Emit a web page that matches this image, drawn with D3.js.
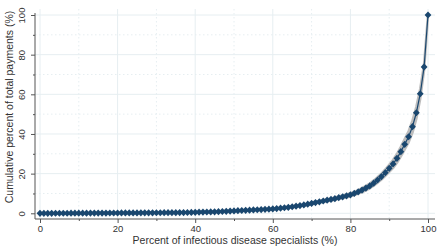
<!DOCTYPE html>
<html>
<head>
<meta charset="utf-8">
<script src="https://cdn.jsdelivr.net/npm/d3@7"></script>
<style>
  body { margin: 0; background: #fff; }
  text { font-family: "Liberation Sans", Arial, sans-serif; fill: #333; }
</style>
</head>
<body>
<div id="chart"></div>
<script>
"use strict"

// canvas size
let svgWidth = 440;
let svgHeight = 246;

// percent of specialists (x) and cumulative percent of payments (y)
let specialistPct = d3.range(0, 101);
let cumPayments = [
    0.00, 0.00, 0.01, 0.01, 0.02, 0.02, 0.03, 0.03, 0.04, 0.05,
    0.06, 0.07, 0.08, 0.09, 0.10, 0.11, 0.12, 0.13, 0.14, 0.15,
    0.16, 0.17, 0.18, 0.19, 0.20, 0.21, 0.22, 0.23, 0.24, 0.25,
    0.27, 0.28, 0.29, 0.30, 0.32, 0.34, 0.36, 0.38, 0.41, 0.45,
    0.50, 0.55, 0.60, 0.65, 0.70, 0.75, 0.80, 0.90, 1.00, 1.10,
    1.20, 1.30, 1.40, 1.50, 1.60, 1.70, 1.80, 1.90, 2.00, 2.10,
    2.20, 2.40, 2.60, 2.80, 3.00, 3.30, 3.60, 3.90, 4.20, 4.60,
    5.00, 5.40, 5.80, 6.20, 6.60, 7.00, 7.40, 7.90, 8.30, 8.80,
    9.30, 10.0, 10.8, 11.7, 12.7, 13.8, 15.2, 16.8, 18.5, 20.5,
    22.7, 24.9, 27.7, 31.1, 34.8, 38.6, 43.7, 50.7, 60.3, 73.8,
    100.0
];
// half width of the grey band around the curve
let bandHalf = [
    0, 0, 0, 0, 0, 0, 0, 0, 0, 0,
    0, 0, 0, 0, 0, 0, 0, 0, 0, 0,
    0, 0, 0, 0, 0, 0, 0, 0, 0, 0,
    0, 0, 0, 0, 0, 0, 0, 0, 0, 0,
    0.1, 0.1, 0.1, 0.1, 0.1, 0.1, 0.1, 0.1, 0.1, 0.1,
    0.1, 0.1, 0.2, 0.2, 0.2, 0.2, 0.2, 0.2, 0.2, 0.2,
    0.2, 0.2, 0.3, 0.3, 0.3, 0.3, 0.3, 0.3, 0.3, 0.4,
    0.4, 0.4, 0.4, 0.5, 0.5, 0.5, 0.6, 0.6, 0.7, 0.7,
    0.8, 0.8, 0.9, 1.0, 1.1, 1.2, 1.3, 1.4, 1.5, 1.6,
    1.8, 2.0, 2.2, 2.4, 2.6, 2.8, 3.0, 3.0, 2.5, 1.5,
    0.0
];
let xTicks = [0, 20, 40, 60, 80, 100];
let xMinor = [10, 30, 50, 70, 90];
let yTicks = [0, 20, 40, 60, 80, 100];
let yMinor = [10, 30, 50, 70, 90];

let data = specialistPct.map(function (x, i) {
    return { x: x, y: cumPayments[i], h: bandHalf[i] };
});

// plot region
let plotLeft = 35, plotRight = 435, plotTop = 9, plotBottom = 219;
let navy = "#1a476f";
let gridColor = "#e6eef1";

let xScale = d3.scaleLinear().domain([0, 100]).range([40, 428]);
let yScale = d3.scaleLinear().domain([0, 100]).range([213.3, 15]);

let svg = d3.select("#chart").append("svg")
    .attr("width", svgWidth)
    .attr("height", svgHeight);

/* grid lines, solid for major and dotted for minor */
let grid = svg.append("g");
yTicks.forEach(function (v) {
    grid.append("line")
        .attr("x1", plotLeft).attr("x2", plotRight)
        .attr("y1", yScale(v)).attr("y2", yScale(v))
        .attr("stroke", gridColor).attr("stroke-width", 1);
});
xTicks.forEach(function (v) {
    grid.append("line")
        .attr("x1", xScale(v)).attr("x2", xScale(v))
        .attr("y1", plotTop).attr("y2", plotBottom)
        .attr("stroke", gridColor).attr("stroke-width", 1);
});
yMinor.forEach(function (v) {
    grid.append("line")
        .attr("x1", plotLeft).attr("x2", plotRight)
        .attr("y1", yScale(v)).attr("y2", yScale(v))
        .attr("stroke", gridColor).attr("stroke-width", 1)
        .attr("stroke-dasharray", "1.5,2.5");
});
xMinor.forEach(function (v) {
    grid.append("line")
        .attr("x1", xScale(v)).attr("x2", xScale(v))
        .attr("y1", plotTop).attr("y2", plotBottom)
        .attr("stroke", gridColor).attr("stroke-width", 1)
        .attr("stroke-dasharray", "1.5,2.5");
});

/* axes */
let xAxis = svg.append("g")
    .attr("transform", "translate(0," + plotBottom + ")")
    .call(d3.axisBottom(xScale).tickValues(xTicks).tickSize(4).tickPadding(2));
xAxis.select(".domain").remove();
xAxis.selectAll("text").style("font-size", "9.5px").attr("fill", "#333");
xAxis.selectAll("line").attr("stroke", "#555");
svg.append("g")
    .attr("transform", "translate(0," + plotBottom + ")")
    .call(d3.axisBottom(xScale).tickValues(xMinor).tickSize(2).tickFormat(""))
    .call(function (g) { g.select(".domain").remove(); })
    .selectAll("line").attr("stroke", "#555");

let yAxis = svg.append("g")
    .attr("transform", "translate(" + plotLeft + ",0)")
    .call(d3.axisLeft(yScale).tickValues(yTicks).tickSize(4).tickPadding(3));
yAxis.select(".domain").remove();
yAxis.selectAll("line").attr("stroke", "#555");
yAxis.selectAll("text")
    .style("font-size", "9.5px")
    .attr("fill", "#333")
    .attr("text-anchor", "middle")
    .attr("dy", null)
    .attr("x", null)
    .attr("transform", "translate(-10,0) rotate(-90)");
svg.append("g")
    .attr("transform", "translate(" + plotLeft + ",0)")
    .call(d3.axisLeft(yScale).tickValues(yMinor).tickSize(2).tickFormat(""))
    .call(function (g) { g.select(".domain").remove(); })
    .selectAll("line").attr("stroke", "#555");

svg.append("line")
    .attr("x1", plotLeft).attr("x2", plotRight)
    .attr("y1", plotBottom).attr("y2", plotBottom)
    .attr("stroke", "#555");
svg.append("line")
    .attr("x1", plotLeft).attr("x2", plotLeft)
    .attr("y1", plotTop + 4).attr("y2", plotBottom)
    .attr("stroke", "#555");

/* grey band */
let band = d3.area()
    .x(function (d) { return xScale(d.x); })
    .y0(function (d) { return yScale(d.y - d.h); })
    .y1(function (d) { return yScale(d.y + d.h); });
svg.append("path")
    .datum(data)
    .attr("d", band)
    .attr("fill", "#bdbdbd")
    .attr("stroke", "#bdbdbd")
    .attr("stroke-width", 2.5)
    .attr("stroke-linejoin", "round");

/* line and diamond markers */
let line = d3.line()
    .x(function (d) { return xScale(d.x); })
    .y(function (d) { return yScale(d.y); });
svg.append("path")
    .datum(data)
    .attr("d", line)
    .attr("fill", "none")
    .attr("stroke", navy)
    .attr("stroke-width", 1.2);

svg.selectAll(".pt")
    .data(data)
    .join("path")
    .attr("class", "pt")
    .attr("d", "M0,-3.6L3.4,0L0,3.6L-3.4,0Z")
    .attr("transform", function (d) {
        return "translate(" + xScale(d.x) + "," + yScale(d.y) + ")";
    })
    .attr("fill", navy);

/* axis titles */
svg.append("text")
    .attr("x", 235)
    .attr("y", 244)
    .attr("text-anchor", "middle")
    .style("font-size", "10.5px")
    .text("Percent of infectious disease specialists (%)");

svg.append("text")
    .attr("transform", "translate(13,107) rotate(-90)")
    .attr("text-anchor", "middle")
    .style("font-size", "10.5px")
    .text("Cumulative percent of total payments (%)");
</script>
</body>
</html>
